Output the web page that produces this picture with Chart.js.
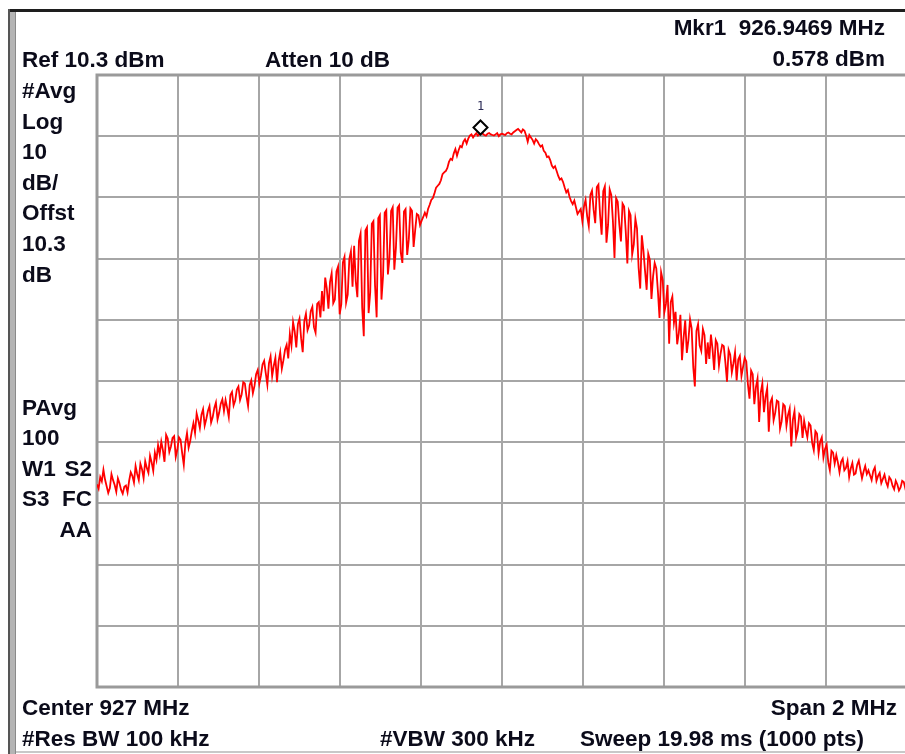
<!DOCTYPE html>
<html>
<head>
<meta charset="utf-8">
<script src="https://cdn.jsdelivr.net/npm/chart.js@4.4.1/dist/chart.umd.min.js"></script>
<style>
    html, body { margin: 0; padding: 0; background: #fff; overflow: hidden; }
    #wrap { position: relative; width: 905px; height: 754px; overflow: hidden; }
    #trace { position: absolute; left: 0; top: 0; }
    .lbl {
        position: absolute;
        font: bold 22.5px "Liberation Sans", Arial, sans-serif;
        line-height: 22px;
        color: #0b0b1a;
        white-space: pre;
    }
    .r { text-align: right; }
    .frame { position: absolute; }
</style>
</head>
<body>
<div id="wrap">
    <canvas id="trace" width="912" height="754"></canvas>

    <!-- instrument frame -->
    <div class="frame" style="left:8px; top:9px; width:897px; height:3px; background:#1e1e1e;"></div>
    <div class="frame" style="left:8px; top:9px; width:2px; height:745px; background:#555;"></div>
    <div class="frame" style="left:10px; top:12px; width:5px; height:742px; background:#b4b4b4;"></div>
    <div class="frame" style="left:15px; top:12px; width:1px; height:742px; background:#8a8a8a;"></div>
    <div class="frame" style="left:16px; top:751px; width:889px; height:2px; background:#c8c8c8;"></div>

    <!-- header -->
    <div class="lbl r" style="right:20px; top:17px;">Mkr1  926.9469 MHz</div>
    <div class="lbl r" style="right:20px; top:48px;">0.578 dBm</div>
    <div class="lbl" style="left:22px; top:49px;">Ref 10.3 dBm</div>
    <div class="lbl" style="left:265px; top:49px;">Atten 10 dB</div>

    <!-- left column -->
    <div class="lbl" style="left:22px; top:80px;">#Avg</div>
    <div class="lbl" style="left:22px; top:111px;">Log</div>
    <div class="lbl" style="left:22px; top:141px;">10</div>
    <div class="lbl" style="left:22px; top:172px;">dB/</div>
    <div class="lbl" style="left:22px; top:202px;">Offst</div>
    <div class="lbl" style="left:22px; top:233px;">10.3</div>
    <div class="lbl" style="left:22px; top:264px;">dB</div>

    <div class="lbl" style="left:22px; top:397px;">PAvg</div>
    <div class="lbl" style="left:22px; top:427px;">100</div>
    <div class="lbl" style="left:22px; top:458px;">W1</div>
    <div class="lbl r" style="right:813px; top:458px;">S2</div>
    <div class="lbl" style="left:22px; top:488px;">S3</div>
    <div class="lbl r" style="right:813px; top:488px;">FC</div>
    <div class="lbl r" style="right:813px; top:519px;">AA</div>

    <!-- footer -->
    <div class="lbl" style="left:22px; top:697px;">Center 927 MHz</div>
    <div class="lbl r" style="right:8px; top:697px;">Span 2 MHz</div>
    <div class="lbl" style="left:22px; top:728px;">#Res BW 100 kHz</div>
    <div class="lbl" style="left:380px; top:728px;">#VBW 300 kHz</div>
    <div class="lbl" style="left:580px; top:728px;">Sweep 19.98 ms (1000 pts)</div>
</div>

<script>
// Sweep settings
const startMHz = 926;
const stopMHz = 928;

// Grid lines (10 div each way)
const xGridMHz = [926, 926.2, 926.4, 926.6, 926.8, 927, 927.2, 927.4, 927.6, 927.8, 928];
const yGridDbm = [10.3, 0.3, -9.7, -19.7, -29.7, -39.7, -49.7, -59.7, -69.7, -79.7, -89.7];

// Marker 1
const markerMHz = 926.9469;
const markerDbm = 0.578;

// Trace levels (dBm), left to right
const traceDbm = [
    -56.6, -57.3, -55.4, -56.1, -54.2, -55.8, -56.9, -58.0, -57.2, -54.9, -55.9, -56.7, -57.8, -55.6, -56.4, -57.5, -58.1, -57.0, -56.8, -57.9,
    -56.0, -54.6, -55.2, -56.3, -53.6, -54.9, -55.9, -53.2, -54.1, -55.6, -52.8, -53.9, -54.7, -51.9, -53.0, -54.4, -51.4, -52.6, -50.2, -51.7,
    -49.6, -51.0, -52.9, -48.5, -49.1, -51.3, -50.4, -49.0, -48.7, -52.1, -50.9, -48.9, -49.3, -51.5, -53.4, -49.8, -48.2, -50.6, -49.5, -47.9,
    -46.6, -48.2, -45.0, -46.1, -47.4, -45.2, -44.3, -47.0, -45.9, -44.6, -43.8, -46.5, -45.6, -44.1, -43.2, -46.0, -44.9, -43.4, -42.7, -44.6,
    -42.8, -44.1, -45.6, -42.0, -41.5, -43.7, -42.9, -41.1, -40.6, -42.8, -41.9, -39.9, -40.1, -42.2, -43.8, -40.4, -39.6, -41.7, -40.5, -38.6,
    -37.9, -40.1, -38.8, -37.0, -36.4, -38.4, -40.3, -36.8, -35.7, -38.9, -37.2, -35.9, -39.9, -36.5, -35.0, -37.7, -36.3, -34.6, -33.8, -36.0,
    -32.0, -33.9, -30.1, -31.6, -34.2, -30.4, -29.5, -32.7, -35.0, -29.9, -28.7, -31.4, -30.6, -28.3, -27.6, -30.9, -31.8, -27.1, -26.8, -29.3,
    -25.0, -28.3, -22.8, -24.6, -27.9, -23.5, -22.1, -27.0, -26.4, -21.8, -21.0, -28.8, -27.2, -20.3, -19.4, -26.9, -25.6, -19.8, -18.5, -24.3,
    -17.6, -23.4, -26.0, -16.8, -15.6, -27.7, -32.4, -15.1, -14.6, -28.6, -25.2, -14.0, -13.6, -24.1, -29.3, -13.1, -12.6, -26.4, -22.5, -12.2,
    -11.8, -22.3, -19.6, -11.9, -11.3, -21.5, -17.9, -11.4, -11.0, -18.7, -20.4, -12.0, -11.6, -19.1, -16.6, -11.5, -11.9, -17.8, -15.0, -12.4,
    -12.6, -14.2, -13.5, -12.9, -12.2, -12.8, -11.6, -10.9, -10.1, -9.8, -9.0, -8.1, -7.8, -7.5, -6.9, -5.9, -5.6, -5.4, -4.9, -3.9,
    -3.4, -3.6, -2.5, -1.8, -2.9, -2.0, -1.3, -1.5, -0.6, -0.2, -0.9, -0.1, 0.4, 0.6, 0.1, 0.5, 0.8, 0.4, 0.6, 0.9,
    0.7, 0.5, 0.4, 0.7, 0.8, 0.6, 0.5, 0.4, 0.6, 0.8, 0.3, 0.6, 0.7, 0.6, 0.5, 0.8, 0.9, 0.7, 0.6, 0.9,
    1.1, 1.3, 1.5, 1.2, 0.9, 1.4, 1.2, 0.4, -0.6, 0.5, 0.1, -0.3, -0.9, -0.2, -0.5, -1.0, -1.4, -1.2, -2.1, -2.4,
    -3.1, -3.0, -3.6, -4.5, -4.9, -4.6, -5.4, -6.2, -6.8, -6.6, -7.2, -8.1, -8.9, -8.5, -9.6, -10.3, -10.8, -10.2, -11.3, -12.4,
    -12.0, -11.6, -13.6, -11.2, -10.1, -12.8, -14.4, -9.3, -8.6, -11.7, -13.9, -8.0, -7.6, -12.5, -15.8, -8.7, -7.9, -17.1, -14.2, -8.4,
    -9.3, -13.5, -19.6, -9.8, -10.4, -14.1, -16.9, -10.7, -11.2, -15.3, -20.5, -11.9, -12.6, -19.0, -17.4, -13.2, -14.8, -21.2, -24.6, -15.9,
    -18.4, -21.7, -24.8, -18.9, -19.9, -26.3, -22.6, -20.4, -21.3, -25.0, -29.4, -21.9, -23.2, -28.5, -27.1, -24.0, -33.6, -26.8, -25.9, -30.2,
    -28.4, -33.7, -31.9, -28.9, -36.3, -32.6, -29.8, -35.1, -33.0, -29.6, -31.1, -37.4, -40.6, -31.5, -30.4, -33.9, -34.8, -31.2, -32.2, -36.9,
    -33.4, -36.1, -32.1, -34.5, -37.9, -33.0, -33.6, -37.2, -35.2, -33.8, -34.0, -36.7, -39.8, -34.6, -35.4, -38.3, -36.8, -35.0, -39.6, -36.2,
    -35.6, -38.9, -37.4, -35.9, -36.5, -40.2, -42.6, -38.0, -38.6, -43.5, -40.7, -39.3, -46.4, -41.6, -40.1, -44.8, -42.3, -40.9, -48.0, -43.2,
    -42.5, -46.1, -44.9, -42.9, -43.1, -47.5, -46.3, -43.5, -43.8, -47.0, -45.2, -44.2, -50.4, -46.0, -44.6, -48.9, -47.8, -45.1, -45.5, -49.0,
    -46.2, -47.7, -48.9, -46.6, -47.0, -49.8, -51.0, -47.9, -48.3, -51.5, -49.6, -48.9, -52.2, -50.8, -50.1, -53.0, -54.3, -51.1, -51.4, -53.2,
    -51.8, -53.0, -54.6, -52.9, -52.4, -54.3, -53.9, -52.8, -55.4, -54.0, -53.1, -55.0, -54.8, -53.4, -52.7, -54.2, -55.6, -54.5, -53.6, -54.9,
    -54.3, -55.1, -55.9, -54.4, -53.8, -56.0, -55.2, -54.7, -56.4, -55.7, -55.0, -56.2, -56.9, -55.4, -55.8, -56.8, -57.4, -56.0, -56.6, -57.6,
    -57.1, -56.0, -56.2, -57.3, -56.8
];

// points spread evenly over the span
const stepMHz = (stopMHz - startMHz) / (traceDbm.length - 1);
const tracePoints = traceDbm.map((v, i) => ({ x: startMHz + i * stepMHz, y: v }));

// border round the graticule, under the trace
const graticuleBorder = {
    id: 'graticuleBorder',
    beforeDatasetsDraw(chart) {
        const a = chart.chartArea;
        const ctx = chart.ctx;
        ctx.save();
        ctx.strokeStyle = '#9a9a9a';
        ctx.lineWidth = 3;
        ctx.strokeRect(a.left, a.top, a.right - a.left, a.bottom - a.top);
        ctx.restore();
    }
};

// diamond marker with its number
const markerPlugin = {
    id: 'markerPlugin',
    afterDatasetsDraw(chart) {
        const ctx = chart.ctx;
        const px = chart.scales.x.getPixelForValue(markerMHz);
        const py = chart.scales.y.getPixelForValue(markerDbm) - 7;
        const s = 7;
        ctx.save();
        ctx.beginPath();
        ctx.moveTo(px, py - s);
        ctx.lineTo(px + s, py);
        ctx.lineTo(px, py + s);
        ctx.lineTo(px - s, py);
        ctx.closePath();
        ctx.fillStyle = '#fff';
        ctx.fill();
        ctx.strokeStyle = '#000';
        ctx.lineWidth = 2;
        ctx.stroke();
        ctx.fillStyle = '#2a2a55';
        ctx.font = '12px "DejaVu Sans Mono", monospace';
        ctx.textAlign = 'center';
        ctx.textBaseline = 'middle';
        ctx.fillText('1', px, py - 21);
        ctx.restore();
    }
};

const ctx = document.getElementById('trace').getContext('2d');
const traceChart = new Chart(ctx, {
    type: 'line',
    data: {
        datasets: [{
            label: 'Trace',
            data: tracePoints,
            borderColor: '#ff0000',
            borderWidth: 1.8,
            pointRadius: 0,
            fill: false,
            tension: 0
        }]
    },
    options: {
        responsive: false,
        animation: false,
        events: [],
        layout: {
            padding: { left: 97, top: 75, right: 5, bottom: 67 }
        },
        plugins: {
            legend: { display: false },
            tooltip: { enabled: false }
        },
        scales: {
            x: {
                type: 'linear',
                min: startMHz,
                max: stopMHz,
                afterBuildTicks: (scale) => { scale.ticks = xGridMHz.map(v => ({ value: v })); },
                afterFit: (scale) => { scale.height = 0; },
                ticks: { display: false },
                grid: { color: '#a6a6a6', lineWidth: 2, drawTicks: false },
                border: { display: false }
            },
            y: {
                type: 'linear',
                min: yGridDbm[yGridDbm.length - 1],
                max: yGridDbm[0],
                afterBuildTicks: (scale) => { scale.ticks = yGridDbm.map(v => ({ value: v })); },
                afterFit: (scale) => { scale.width = 0; },
                ticks: { display: false },
                grid: { color: '#a6a6a6', lineWidth: 2, drawTicks: false },
                border: { display: false }
            }
        }
    },
    plugins: [graticuleBorder, markerPlugin]
});
</script>
</body>
</html>
